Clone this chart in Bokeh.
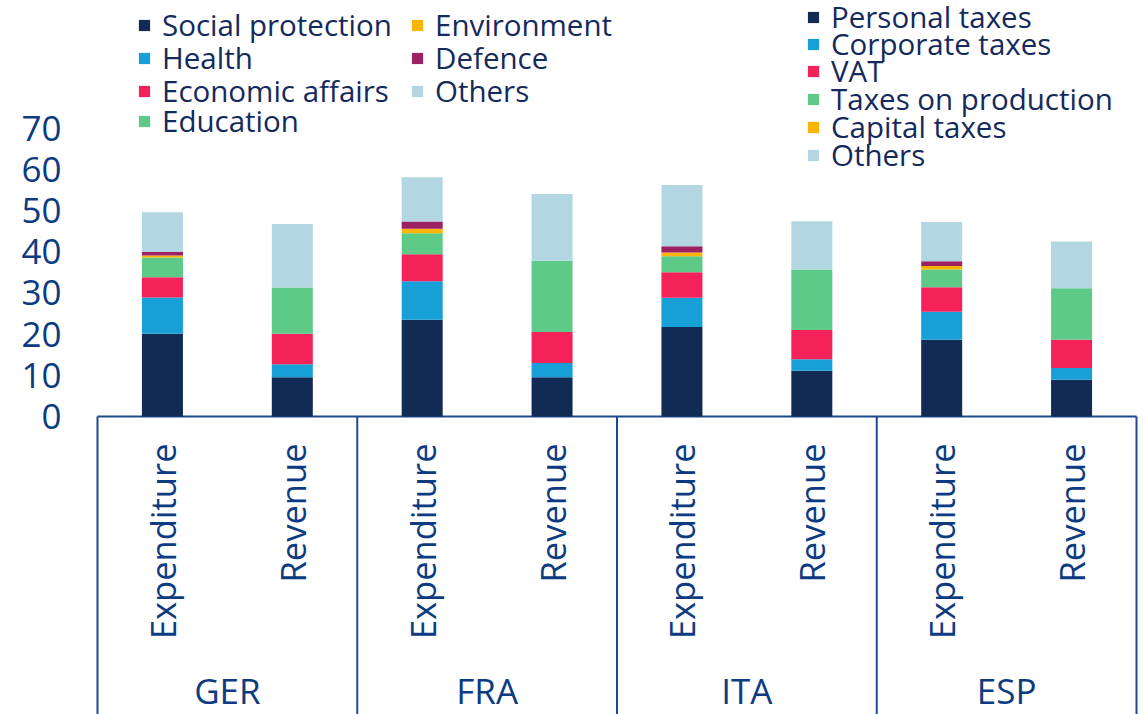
import math
from bokeh.plotting import figure
from bokeh.models import Range1d, FixedTicker, Legend, LegendItem, ColumnDataSource
from bokeh.core.properties import value
from bokeh.embed import file_html
from bokeh.resources import INLINE

# ---------------- data ----------------
countries = ["GER", "FRA", "ITA", "ESP"]
kinds = ["Expenditure", "Revenue"]

exp_cats = ["Social protection", "Health", "Economic affairs", "Education",
            "Environment", "Defence", "Others"]
exp_social = [20.1, 23.5, 21.7, 18.6]
exp_health = [8.8, 9.3, 7.1, 6.8]
exp_econ = [4.9, 6.6, 6.2, 6.0]
exp_edu = [4.8, 5.1, 3.9, 4.3]
exp_env = [0.5, 1.1, 0.9, 0.8]
exp_def = [0.9, 1.7, 1.5, 1.2]
exp_oth = [9.6, 10.8, 14.9, 9.5]

rev_cats = ["Personal taxes", "Corporate taxes", "VAT", "Taxes on production",
            "Capital taxes", "Others"]
rev_pers = [9.5, 9.5, 11.1, 8.9]
rev_corp = [3.2, 3.5, 2.8, 2.9]
rev_vat = [7.4, 7.5, 7.1, 6.8]
rev_prod = [11.2, 17.3, 14.7, 12.5]
rev_cap = [0.0, 0.0, 0.0, 0.0]
rev_oth = [15.4, 16.2, 11.7, 11.4]

y_ticks = [0, 10, 20, 30, 40, 50, 60, 70]

exp_colors = ["#122b54", "#17a0d8", "#f5225a", "#5dca87", "#fbb500", "#9c2163", "#b3d6e3"]
rev_colors = ["#122b54", "#17a0d8", "#f5225a", "#5dca87", "#fbb500", "#b3d6e3"]

TEXT_AX = "#0d3b82"
TEXT_LEG = "#14295c"
LINE_C = "#1d4a8f"
FONT = "Open Sans"

# ---------------- layout constants ----------------
W, H = 1147, 714
left_px, right_px = 94, 1139
px_per_unit_x = (1136 - 97) / 8.0
pad = 3 / px_per_unit_x
px_per_y = 4.12
base_px = 416
y_top = base_px / px_per_y
y_bot = -(H - base_px) / px_per_y

p = figure(width=W, height=H, output_backend="svg", toolbar_location=None,
           x_range=Range1d(-pad, 8 + pad), y_range=Range1d(y_bot, y_top),
           x_axis_location=None, min_border_left=left_px, min_border_right=W - right_px,
           min_border_top=0, min_border_bottom=0)
p.outline_line_color = None
p.xgrid.visible = False
p.ygrid.visible = False
p.background_fill_color = "white"
p.border_fill_color = "white"

ax = p.yaxis[0]
ax.ticker = FixedTicker(ticks=y_ticks)
ax.axis_line_color = None
ax.major_tick_line_color = None
ax.minor_tick_line_color = None
ax.major_tick_out = 0
ax.major_tick_in = 0
ax.major_label_standoff = 33
ax.major_label_text_font = FONT
ax.major_label_text_font_size = "35px"
ax.major_label_text_color = TEXT_AX

# positions from categories
exp_x = [2 * i + 0.5 for i in range(len(countries))]
rev_x = [2 * i + 1.5 for i in range(len(countries))]
bar_w = 41 / px_per_unit_x

# frame lines of the category axis
n = len(countries)
p.segment(x0=[0], y0=[0], x1=[2 * n], y1=[0], line_color=LINE_C, line_width=2)
p.segment(x0=[2 * i for i in range(n + 1)], y0=[0] * (n + 1),
          x1=[2 * i for i in range(n + 1)], y1=[y_bot] * (n + 1),
          line_color=LINE_C, line_width=2)

exp_src = ColumnDataSource(dict(x=exp_x, s0=exp_social, s1=exp_health, s2=exp_econ,
                                s3=exp_edu, s4=exp_env, s5=exp_def, s6=exp_oth))
rev_src = ColumnDataSource(dict(x=rev_x, r0=rev_pers, r1=rev_corp, r2=rev_vat,
                                r3=rev_prod, r4=rev_cap, r5=rev_oth))

exp_r = p.vbar_stack(["s0", "s1", "s2", "s3", "s4", "s5", "s6"], x="x", width=bar_w,
                     color=exp_colors, source=exp_src, line_width=0)
rev_r = p.vbar_stack(["r0", "r1", "r2", "r3", "r4", "r5"], x="x", width=bar_w,
                     color=rev_colors, source=rev_src, line_width=0)

# category labels
sub_x = []
sub_t = []
for i, c in enumerate(countries):
    for j, k in enumerate(kinds):
        sub_x.append(2 * i + j + 0.5)
        sub_t.append(k)
sub_y = -(443 - base_px) / px_per_y
p.text(x=sub_x, y=[sub_y] * len(sub_x), text=sub_t, angle=math.pi / 2,
       text_align="right", text_baseline="middle", text_font=value(FONT),
       text_font_size="34.5px", text_color=TEXT_AX)
grp_y = -(690 - base_px) / px_per_y
p.text(x=[2 * i + 1 for i in range(n)], y=[grp_y] * n, text=countries,
       text_align="center", text_baseline="middle", text_font=value(FONT),
       text_font_size="35px", text_color=TEXT_AX)

# legends: one small legend per entry, so the rows can sit as tightly as in the original
LEG_H = 40.2  # height of one legend row at this font size


def add_entry(label, renderer, x_px, yc_px):
    lg = Legend(items=[LegendItem(label=label, renderers=[renderer])],
                location=(x_px - left_px, H - yc_px - LEG_H / 2),
                orientation="vertical",
                glyph_width=14, glyph_height=14, label_standoff=11,
                label_height=20, spacing=0, padding=0, margin=0,
                border_line_color=None, background_fill_alpha=0,
                label_text_font=FONT, label_text_font_size="29.5px",
                label_text_color=TEXT_LEG, label_text_baseline="middle")
    p.add_layout(lg, "center")


left_rows = [25, 58, 91, 121]
for i in range(4):
    add_entry(exp_cats[i], exp_r[i], 137, left_rows[i])
for i in range(4, 7):
    add_entry(exp_cats[i], exp_r[i], 410, left_rows[i - 4])

right_rows = [17, 44, 71, 99, 127, 155]
for i in range(6):
    add_entry(rev_cats[i], rev_r[i], 806, right_rows[i])

open("out.html", "w").write(file_html(p, INLINE))
